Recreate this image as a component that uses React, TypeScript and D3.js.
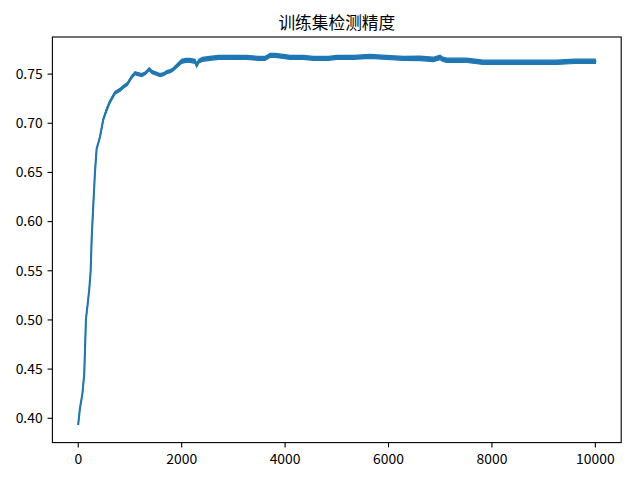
import React from "react";
import * as d3 from "d3";

const title = "训练集检测精度";
const steps = [0, 30, 80, 116, 149, 180, 213, 240, 259, 290, 323, 355, 420, 484, 550, 613, 710, 807, 871, 950, 1032, 1097, 1160, 1226, 1300, 1373, 1430, 1484, 1580, 1650, 1710, 1780, 1838, 1920, 2000, 2080, 2160, 2257, 2290, 2330, 2400, 2547, 2708, 3064, 3257, 3482, 3611, 3708, 3805, 3965, 4095, 4352, 4545, 4836, 4998, 5319, 5642, 5965, 6286, 6609, 6867, 6996, 7050, 7125, 7512, 7830, 8300, 8940, 9253, 9600, 9999];
const accuracy = [0.394, 0.409, 0.425, 0.445, 0.501, 0.515, 0.531, 0.55, 0.582, 0.616, 0.65, 0.674, 0.686, 0.704, 0.714, 0.722, 0.731, 0.734, 0.737, 0.74, 0.747, 0.751, 0.75, 0.749, 0.751, 0.755, 0.752, 0.751, 0.749, 0.75, 0.752, 0.753, 0.755, 0.759, 0.763, 0.764, 0.764, 0.763, 0.759, 0.763, 0.765, 0.766, 0.767, 0.767, 0.767, 0.766, 0.766, 0.769, 0.769, 0.768, 0.767, 0.767, 0.766, 0.766, 0.767, 0.767, 0.768, 0.767, 0.766, 0.766, 0.765, 0.767, 0.765, 0.764, 0.764, 0.762, 0.762, 0.762, 0.762, 0.763, 0.763];
// half-width of the jitter band around the curve
const spread = [0, 0, 0, 0, 0, 0, 0, 0, 0, 0, 0, 0, 0.0005, 0.001, 0.0015, 0.0015, 0.0015, 0.0015, 0.0015, 0.0015, 0.0015, 0.0015, 0.0015, 0.0015, 0.0015, 0.0015, 0.0015, 0.0015, 0.0015, 0.0015, 0.0015, 0.0015, 0.0015, 0.0018, 0.002, 0.002, 0.002, 0.002, 0.002, 0.002, 0.002, 0.002, 0.002, 0.002, 0.002, 0.002, 0.002, 0.002, 0.002, 0.002, 0.002, 0.002, 0.002, 0.002, 0.002, 0.002, 0.002, 0.002, 0.002, 0.0022, 0.0022, 0.0022, 0.0022, 0.0022, 0.0022, 0.0022, 0.0022, 0.0022, 0.0022, 0.0022, 0.0022];
const xTicks = [0, 2000, 4000, 6000, 8000, 10000];
const yTicks = [0.4, 0.45, 0.5, 0.55, 0.6, 0.65, 0.7, 0.75];

export default function App() {
  const W = 640, H = 480;
  const left = 52.4, right = 621.2, top = 37, bottom = 442.6;
  const font = "'Noto Sans CJK SC', 'DejaVu Sans', sans-serif";
  const x = d3.scaleLinear().domain([-500, 10500]).range([left, right]);
  const ymin = d3.min(accuracy)!, ymax = d3.max(accuracy)!;
  const m = (ymax - ymin) * 0.05;
  const y = d3.scaleLinear().domain([ymin - m, ymax + m]).range([bottom, top]);
  const pts = steps.map((s, i) => ({ s, v: accuracy[i], d: spread[i] }));
  const line = d3.line<any>().x((p) => x(p.s)).y((p) => y(p.v));
  const area = d3.area<any>().x((p) => x(p.s)).y0((p) => y(p.v - p.d)).y1((p) => y(p.v + p.d));
  const tl = 4.86;
  return (
    <svg width={W} height={H} style={{ position: "absolute", left: 0, top: 0, background: "#fff" }} fontFamily={font}>
      <rect x={0} y={0} width={W} height={H} fill="#fff" />
      <path d={area(pts)!} fill="#1f77b4" stroke="#1f77b4" strokeWidth={1.2} />
      <path d={line(pts)!} fill="none" stroke="#1f77b4" strokeWidth={2.08} strokeLinejoin="round" strokeLinecap="square" />
      <rect x={left} y={top} width={right - left} height={bottom - top} fill="none" stroke="#000" strokeWidth={1.1} />
      {xTicks.map((t) => (
        <g key={"x" + t}>
          <line x1={x(t)} x2={x(t)} y1={bottom} y2={bottom + tl} stroke="#000" strokeWidth={1.1} />
          <text x={x(t)} y={bottom + tl + 17} textAnchor="middle" fontSize={13.9} fill="#000">{t}</text>
        </g>
      ))}
      {yTicks.map((t) => (
        <g key={"y" + t}>
          <line x1={left - tl} x2={left} y1={y(t)} y2={y(t)} stroke="#000" strokeWidth={1.1} />
          <text x={left - tl - 4.9} y={y(t)} dy="0.35em" textAnchor="end" fontSize={13.9} fill="#000">{t.toFixed(2)}</text>
        </g>
      ))}
      <text x={(left + right) / 2} y={top - 8.3} textAnchor="middle" fontSize={16.7} fill="#000">{title}</text>
    </svg>
  );
}
